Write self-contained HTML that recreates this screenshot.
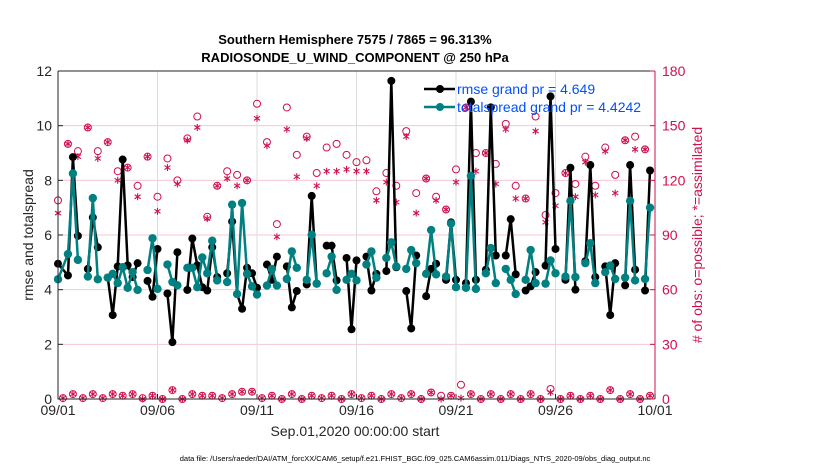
<!DOCTYPE html>
<html><head><meta charset="utf-8"><style>
body{margin:0;background:#fff;}
svg{display:block;font-family:"Liberation Sans",sans-serif;}
</style></head><body>
<svg id="chart" width="830" height="470">
<g id="grid"></g>
<g id="obs"></g>
<g id="series"></g>
<g id="axes"></g>
<text x="355" y="44" text-anchor="middle" font-size="13" font-weight="bold">Southern Hemisphere 7575 / 7865 = 96.313%</text>
<text x="355" y="62" text-anchor="middle" font-size="13" font-weight="bold">RADIOSONDE_U_WIND_COMPONENT @ 250 hPa</text>
<text transform="translate(33,235) rotate(-90)" text-anchor="middle" font-size="14" fill="#262626">rmse and totalspread</text>
<text transform="translate(702,235) rotate(-90)" text-anchor="middle" font-size="14" fill="#d0104c"># of obs: o=possible; *=assimilated</text>
<text x="355" y="436" text-anchor="middle" font-size="14" fill="#262626">Sep.01,2020 00:00:00 start</text>
<text x="415" y="461" text-anchor="middle" font-size="7.5" fill="#000">data file: /Users/raeder/DAI/ATM_forcXX/CAM6_setup/f.e21.FHIST_BGC.f09_025.CAM6assim.011/Diags_NTrS_2020-09/obs_diag_output.nc</text>
<g>
<line x1="424" y1="89" x2="455" y2="89" stroke="#000" stroke-width="2.5"/>
<circle cx="440" cy="89" r="4" fill="#000"/>
<line x1="424" y1="107" x2="455" y2="107" stroke="#008080" stroke-width="2.5"/>
<circle cx="440" cy="107" r="4" fill="#008080"/>
<text x="457" y="94" font-size="14" fill="#0050ff">rmse grand pr = 4.649</text>
<text x="457" y="112" font-size="14" fill="#0050ff">totalspread grand pr = 4.4242</text>
</g>
</svg>
<script>
// ---- data ----
const times = [0,0.5,0.75,1,null,1.5,1.75,2,null,2.5,2.75,3,3.25,3.5,3.75,4,null,4.5,4.75,5,null,5.5,5.75,6,null,6.5,6.75,7,7.25,7.5,7.75,8,null,8.5,8.75,9,9.25,9.5,9.75,10,null,
10.5,10.75,11,null,11.5,11.75,12,null,12.5,12.75,13,null,13.5,13.75,14,null,14.5,14.75,15,null,15.5,15.75,16,null,16.5,16.75,17,null,17.5,17.75,18,null,18.5,18.75,19,null,19.5,19.75,20,null,
20.5,20.75,21,null,21.5,21.75,22,null,22.5,22.75,23,null,23.5,23.75,24,null,24.5,24.75,25,null,25.5,25.75,26,null,26.5,26.75,27,null,27.5,27.75,28,null,28.5,28.75,29,null,29.5,29.75];
const rmse = [4.95,4.52,8.85,5.97,null,4.76,6.64,5.55,null,4.44,3.07,4.85,8.76,4.89,4.46,4.97,null,4.32,3.74,5.49,null,3.86,2.08,5.37,null,3.99,5.87,4.89,4.09,3.97,5.55,4.46,null,4.6,6.49,3.84,3.3,4.8,4.6,4.07,null,
4.92,4.36,5.21,null,4.85,3.35,3.95,null,4.19,7.43,4.22,null,5.61,5.61,4.34,null,5.16,2.55,5.07,null,5.21,3.97,4.58,null,4.68,11.64,4.82,null,3.95,2.58,5.25,null,3.76,4.76,4.95,null,4.36,6.46,4.36,null,
4.24,10.88,4.36,null,4.73,10.67,5.25,null,5.25,6.58,4.56,null,3.97,4.12,4.64,null,4.88,11.07,5.49,null,4.36,8.46,4.0,null,5.04,8.56,4.46,null,4.85,3.07,4.97,null,4.16,8.56,4.73,null,3.97,8.36];
const spread = [4.38,5.3,8.25,5.09,null,4.48,7.35,4.38,null,4.44,4.58,4.24,4.82,4.07,4.64,3.99,null,4.72,5.88,4.03,null,4.92,4.28,4.16,null,4.8,4.8,4.09,5.18,4.6,5.79,4.34,null,4.28,7.11,3.84,7.17,4.58,4.12,3.82,null,
4.15,4.76,4.15,null,4.39,5.4,4.8,null,4.36,6.01,4.22,null,4.6,5.21,3.99,null,4.36,4.58,4.34,null,4.92,5.4,4.44,null,5.16,5.73,4.85,null,4.76,5.45,4.97,null,4.58,6.18,4.56,null,4.48,6.42,4.09,null,
4.07,8.16,4.03,null,4.6,5.52,4.24,null,4.76,4.36,3.84,null,4.36,5.45,4.24,null,4.22,5.07,4.6,null,4.48,7.25,4.46,null,4.97,5.7,4.24,null,4.64,4.88,4.39,null,4.44,7.25,4.34,null,4.39,7.0];
const obsTimes = [0,0.5,1,1.5,2,2.5,3,3.5,4,4.5,5,5.5,6,6.5,7,7.5,8,8.5,9,9.5,10,10.5,11,11.5,12,12.5,13,13.5,14,14.5,15,15.5,16,16.5,17,17.5,18,18.5,19,19.5,20,20.5,21,21.5,22,22.5,23,23.5,24,24.5,25,25.5,26,26.5,27,27.5,28,28.5,29,29.5];
const possible = [109,140,136,149,136,141,125,127,117,133,111,132,120,143,155,100,117,125,123,120,162,141,96,160,134,144,124,138,140,134,130,131,114,124,117,147,113,121,111,104,126,160,135,135,129,151,117,110,155,101,113,124,118,133,117,138,123,142,144,137];
const assimilated = [102,140,133,149,132,141,120,127,111,133,103,127,118,142,149,99,117,121,117,120,154,139,89,148,122,143,117,125,125,126,125,125,109,119,108,144,102,121,109,104,119,160,125,135,118,148,110,110,147,97,106,124,111,130,112,136,113,142,137,137];
const lowTimes = [0.25,0.75,1.25,1.75,2.25,2.75,3.25,3.75,4.25,4.75,5.25,5.75,6.25,6.75,7.25,7.75,8.25,8.75,9.25,9.75,10.25,10.75,11.25,11.75,12.25,12.75,13.25,13.75,14.25,14.75,15.25,15.75,16.25,16.75,17.25,17.75,18.25,18.75,19.25,19.75,20.25,20.75,21.25,21.75,22.25,22.75,23.25,23.75,24.25,24.75,25.25,25.75,26.25,26.75,27.25,27.75,28.25,28.75,29.25,29.75];
const lowPossible = [0.5,2.7,0.5,2.7,0.5,2.7,1.8,2.7,0.5,1.8,0,4.9,0,2.7,1.8,1.8,0.5,2.7,4,4,0.5,1.8,0,2.7,0,1.8,0.5,1.8,0,2.7,0.5,1.8,0,2.7,0.5,2.7,0,3.6,1.8,1.8,7.8,2.7,0,2.7,0,2.7,0,2.7,0,5.5,0,1.8,0,1.8,0,4.9,0,2.7,0,1.8];
const lowAssim = [0.5,2.7,0.5,2.7,0.5,2.7,1.8,2.7,0,1.8,0,4.9,0,2.7,1.8,1.8,0.5,2.7,4,4,0.5,1.8,0,2.7,0,1.8,0.5,1.8,0,2.7,0.5,1.8,0,2.7,0.5,2.7,0,3.6,0,1.8,0.5,2.7,0,2.7,0,2.7,0,2.7,0,3.6,0,1.8,0,1.8,0,4.9,0,2.7,0,1.8];
const xTickLabels = ["09/01","09/06","09/11","09/16","09/21","09/26","10/01"];
const xTickDays = [0,5,10,15,20,25,30];
const yTicks = [0,2,4,6,8,10,12];
const y2Ticks = [0,30,60,90,120,150,180];

// ---- scales ----
const X0=58, X1=655, Y0=399, Y1=71;
const xs = d => X0 + d*(X1-X0)/30;
const ys = v => Y0 - v*(Y0-Y1)/12;
const ys2 = v => Y0 - v*(Y0-Y1)/180;
const NS="http://www.w3.org/2000/svg";
function mk(tag, attrs, parent){const e=document.createElementNS(NS,tag);for(const k in attrs)e.setAttribute(k,attrs[k]);parent.appendChild(e);return e;}
const grid=document.getElementById('grid'), axes=document.getElementById('axes'), series=document.getElementById('series'), obs=document.getElementById('obs');

// grid
yTicks.forEach(v=>{ if(v>0&&v<12){const l=mk('line',{x1:X0,x2:X1,y1:ys(v),y2:ys(v),stroke:'#f5c8d6','stroke-width':1},grid);

}});
xTickDays.forEach(d=>{ if(d>0&&d<30){const l=mk('line',{x1:xs(d),x2:xs(d),y1:Y1,y2:Y0,stroke:'#dcdcdc','stroke-width':1},grid);

}});

// axes
const frame=mk('path',{d:`M${X0},${Y1}H${X1}M${X0},${Y1}V${Y0}H${X1}`,stroke:'#262626',fill:'none','stroke-width':1},axes);


const rsp=mk('line',{x1:X1,x2:X1,y1:Y1,y2:Y0,stroke:'#d0104c','stroke-width':1},axes);


yTicks.forEach(v=>{
 mk('line',{x1:X0,x2:X0+5,y1:ys(v),y2:ys(v),stroke:'#262626'},axes);
 const t=mk('text',{x:X0-6,y:ys(v)+5,'text-anchor':'end','font-size':14,fill:'#262626'},axes);t.textContent=v;
 
 
});
y2Ticks.forEach(v=>{
 mk('line',{x1:X1-5,x2:X1,y1:ys2(v),y2:ys2(v),stroke:'#d0104c'},axes);
 const t=mk('text',{x:X1+7,y:ys2(v)+5,'font-size':14,fill:'#d0104c'},axes);t.textContent=v;
 
 
});
xTickDays.forEach((d,i)=>{
 mk('line',{x1:xs(d),x2:xs(d),y1:Y0,y2:Y0-5,stroke:'#262626'},axes);
 const t=mk('text',{x:xs(d),y:Y0+16,'text-anchor':'middle','font-size':14,fill:'#262626'},axes);t.textContent=xTickLabels[i];
 
 
});

// obs markers
function star(cx,cy){const g=mk('g',{stroke:'#d0104c','stroke-width':1.1},obs);
 mk('line',{x1:cx,x2:cx,y1:cy-3.5,y2:cy+3.5},g);
 mk('line',{x1:cx-3,x2:cx+3,y1:cy-2,y2:cy+2},g);
 mk('line',{x1:cx-3,x2:cx+3,y1:cy+2,y2:cy-2},g);
 
 }
function ring(cx,cy){const c=mk('circle',{cx:cx,cy:cy,r:3.5,fill:'none',stroke:'#d0104c','stroke-width':1},obs);
 
 }
obsTimes.forEach((d,i)=>{ring(xs(d),ys2(possible[i]));star(xs(d),ys2(assimilated[i]));});
lowTimes.forEach((d,i)=>{ring(xs(d),ys2(lowPossible[i]));star(xs(d),ys2(lowAssim[i]));});

// series
function drawSeries(vals,color,name,r){
 let d='',pen=false;
 times.forEach((t,i)=>{const v=vals[i];if(t===null||v===null){pen=false;return;}
  d+=(pen?'L':'M')+xs(t).toFixed(1)+','+ys(v).toFixed(1);pen=true;});
 const p=mk('path',{d:d,stroke:color,'stroke-width':2.5,fill:'none','stroke-linejoin':'round'},series);
 
 
 times.forEach((t,i)=>{const v=vals[i];if(t===null||v===null)return;
  const c=mk('circle',{cx:xs(t),cy:ys(v),r:r,fill:color},series);
  
  });
}
drawSeries(rmse,'#000','rmse',4);
drawSeries(spread,'#008080','totalspread',4.2);
</script>
</body></html>
